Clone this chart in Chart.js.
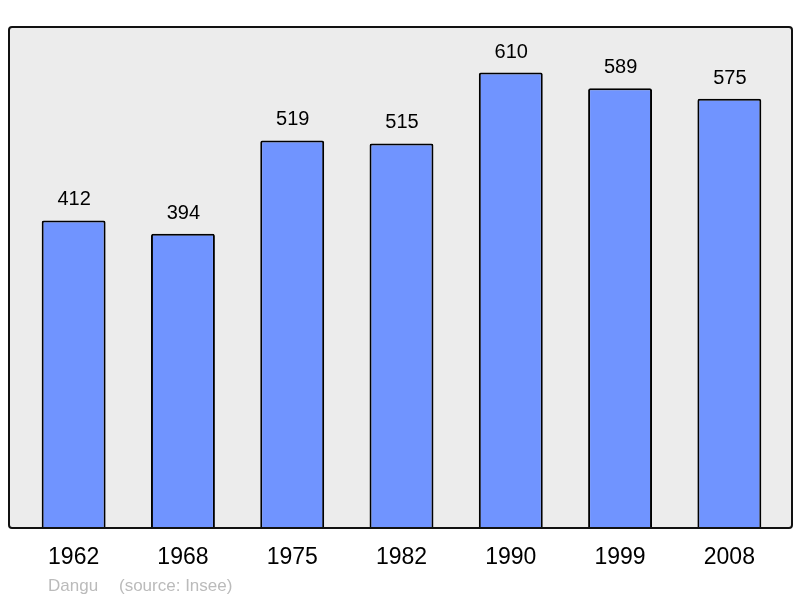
<!DOCTYPE html>
<html>
<head>
<meta charset="utf-8">
<script src="https://cdn.jsdelivr.net/npm/chart.js@4"></script>
<style>
  html, body { margin: 0; padding: 0; background: #fff; }
  #wrap { width: 800px; height: 598px; }
</style>
</head>
<body>
<div id="wrap"><canvas id="graph1"></canvas></div>
<script>
// données de population
const years = ['1962', '1968', '1975', '1982', '1990', '1999', '2008'];
const population = [412, 394, 519, 515, 610, 589, 575];
const footerName = 'Dangu';
const footerSource = '(source: Insee)';

// fond gris + cadre noir
const frame = {
    id: 'frame',
    beforeDraw(chart) {
        const ctx = chart.ctx, a = chart.chartArea;
        ctx.save();
        ctx.beginPath();
        ctx.roundRect(9, a.top, 783, a.bottom - a.top, 3);
        ctx.fillStyle = '#ececec';
        ctx.fill();
        ctx.restore();
    },
    afterDatasetsDraw(chart) {
        const ctx = chart.ctx, a = chart.chartArea;
        ctx.save();
        ctx.beginPath();
        ctx.roundRect(9, a.top, 783, a.bottom - a.top, 3);
        ctx.lineWidth = 2;
        ctx.strokeStyle = '#111';
        ctx.stroke();
        // valeurs au-dessus des barres
        ctx.fillStyle = '#000';
        ctx.font = '20px "Liberation Sans", Arial, sans-serif';
        ctx.textAlign = 'center';
        ctx.textBaseline = 'alphabetic';
        chart.getDatasetMeta(0).data.forEach((bar, i) => {
            ctx.fillText(population[i], bar.x + 0.5, bar.y - 15);
        });
        // source
        ctx.fillStyle = '#bbbbbb';
        ctx.font = '17px "Liberation Sans", Arial, sans-serif';
        ctx.textAlign = 'left';
        ctx.fillText(footerName, 48, 591);
        ctx.fillText(footerSource, 119, 591);
        ctx.restore();
    }
};

const config = {
    type: 'bar',
    data: {
        labels: years,
        datasets: [{
            data: population,
            backgroundColor: 'rgb(112, 148, 255)',
            borderColor: '#000',
            borderWidth: 2,
            borderRadius: 2,
            borderSkipped: 'bottom',
            barPercentage: 0.585,
            categoryPercentage: 1,
        }]
    },
    options: {
        responsive: true,
        maintainAspectRatio: false,
        animation: false,
        layout: {
            padding: { left: 19, right: 16, top: 27, bottom: 0 }
        },
        scales: {
            x: {
                grid: { display: false, drawTicks: false },
                border: { display: false },
                ticks: {
                    color: '#000',
                    padding: 16,
                    font: { size: 23, family: '"Liberation Sans", Arial, sans-serif' }
                },
                afterFit(scale) { scale.height = 70; }
            },
            y: {
                display: false,
                min: 0,
                max: 671,
            }
        },
        plugins: {
            legend: { display: false },
            tooltip: { enabled: false }
        }
    },
    plugins: [frame]
};

new Chart(document.getElementById('graph1'), config);
</script>
</body>
</html>
